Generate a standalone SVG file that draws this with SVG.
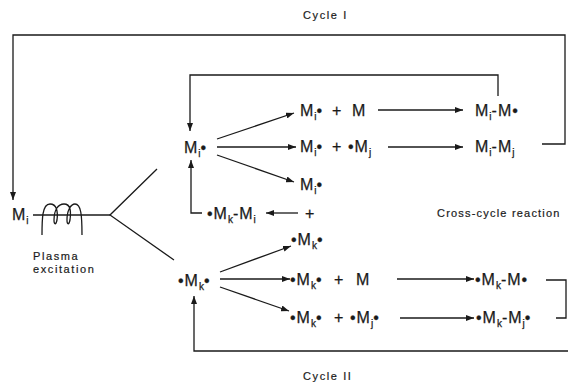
<svg xmlns="http://www.w3.org/2000/svg" width="569" height="382" viewBox="0 0 569 382">
<defs>
<marker id="ah" markerWidth="8" markerHeight="6" refX="8" refY="3" orient="auto" markerUnits="userSpaceOnUse"><path d="M0,0 L8,3 L0,6 z" fill="#1a1a1a"/></marker>
<style>
.t{font-family:"Liberation Sans",Arial,sans-serif;font-size:16px;letter-spacing:1px;fill:#1a1a1a;stroke:#1a1a1a;stroke-width:0.25}
.s{font-size:10px;letter-spacing:0}
.l{font-family:"Liberation Sans",Arial,sans-serif;font-size:11px;letter-spacing:1.6px;fill:#1a1a1a;stroke:#1a1a1a;stroke-width:0.2}
.c{fill:none;stroke:#1a1a1a;stroke-width:1.3}
.a{fill:none;stroke:#1a1a1a;stroke-width:1.3;marker-end:url(#ah)}
</style>
</defs>
<rect width="569" height="382" fill="#fff"/>
<g id="connectors">
<path class="a" d="M542,144 L565,144 L565,35 L13,35 L13,200"/>
<path class="a" d="M498,96 L498,75 L190,75 L190,131"/>
<path class="a" d="M217,139 L294,113"/>
<path class="a" d="M217,147 L296,147"/>
<path class="a" d="M217,155 L294,182"/>
<path class="a" d="M378,110 L463,110"/>
<path class="a" d="M388,147 L463,147"/>
<path class="a" d="M298,213 L266,213"/>
<path class="a" d="M202,213 L191,213 L191,160"/>
<path class="c" d="M33,215 L110,215"/>
<path class="c" d="M157,169 L110,215 L174,260"/>
<path class="c" d="M42,235 C42,220 42,204 50,204 C57,204 58,212 57,220 C56,225 54,225 54,220 C54,210 58,204 64,204 C71,204 71,212 70,220 C69,225 67,225 67,220 C67,210 71,204 75,204 C81,204 82,215 82,235"/>
<path class="a" d="M220,272 L291,246"/>
<path class="a" d="M220,279 L290,279"/>
<path class="a" d="M220,287 L289,311"/>
<path class="a" d="M397,279 L474,279"/>
<path class="a" d="M400,318 L474,318"/>
<path class="c" d="M546,280 L566,280 L566,318 L556,318"/>
<path class="a" d="M568,351 L194,351 L194,296"/>
</g>
<g id="label-cycle1"><text class="l" x="303" y="19">Cycle I</text></g>
<g id="label-cycle2"><text class="l" x="303" y="380">Cycle II</text></g>
<g id="label-plasma"><text class="l" x="33" y="260">Plasma</text><text class="l" x="33" y="273">excitation</text></g>
<g id="label-cross"><text class="l" x="437" y="217" style="letter-spacing:1.2px">Cross-cycle reaction</text></g>
<g id="node-Mi"><text class="t" x="12" y="220">M<tspan class="s" dy="4">i</tspan></text></g>
<g id="node-Mi-rad"><text class="t" x="184" y="153">M<tspan class="s" dy="4">i</tspan><tspan dy="-4">•</tspan></text></g>
<g id="node-r1"><text class="t" x="300" y="116">M<tspan class="s" dy="4">i</tspan><tspan dy="-4">•</tspan></text><text class="t" x="332" y="116">+</text><text class="t" x="352" y="116">M</text></g>
<g id="node-p1"><text class="t" x="475" y="116">M<tspan class="s" dy="4">i</tspan><tspan dy="-4">-M•</tspan></text></g>
<g id="node-r2"><text class="t" x="300" y="152">M<tspan class="s" dy="4">i</tspan><tspan dy="-4">•</tspan></text><text class="t" x="332" y="152">+</text><text class="t" x="348" y="152">•M<tspan class="s" dy="4">j</tspan></text></g>
<g id="node-p2"><text class="t" x="475" y="152">M<tspan class="s" dy="4">i</tspan><tspan dy="-4">-M</tspan><tspan class="s" dy="4">j</tspan></text></g>
<g id="node-r3"><text class="t" x="300" y="190">M<tspan class="s" dy="4">i</tspan><tspan dy="-4">•</tspan></text></g>
<g id="node-r4"><text class="t" x="207" y="219">•M<tspan class="s" dy="4">k</tspan><tspan dy="-4">-M</tspan><tspan class="s" dy="4">i</tspan></text><text class="t" x="305" y="219">+</text></g>
<g id="node-r5"><text class="t" x="291" y="245">•M<tspan class="s" dy="4">k</tspan><tspan dy="-4">•</tspan></text></g>
<g id="node-Mk-rad"><text class="t" x="178" y="286">•M<tspan class="s" dy="4">k</tspan><tspan dy="-4">•</tspan></text></g>
<g id="node-r6"><text class="t" x="290" y="285">•M<tspan class="s" dy="4">k</tspan><tspan dy="-4">•</tspan></text><text class="t" x="334" y="285">+</text><text class="t" x="356" y="285">M</text></g>
<g id="node-p6"><text class="t" x="475" y="285">•M<tspan class="s" dy="4">k</tspan><tspan dy="-4">-M•</tspan></text></g>
<g id="node-r7"><text class="t" x="290" y="323">•M<tspan class="s" dy="4">k</tspan><tspan dy="-4">•</tspan></text><text class="t" x="334" y="323">+</text><text class="t" x="350" y="323">•M<tspan class="s" dy="4">j</tspan><tspan dy="-4">•</tspan></text></g>
<g id="node-p7"><text class="t" x="476" y="323">•M<tspan class="s" dy="4">k</tspan><tspan dy="-4">-M</tspan><tspan class="s" dy="4">j</tspan><tspan dy="-4">•</tspan></text></g>
</svg>
